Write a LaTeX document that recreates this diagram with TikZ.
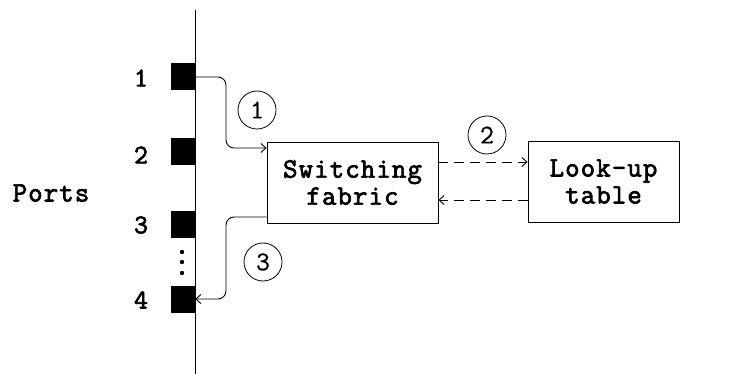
\documentclass[tikz,border=0pt]{standalone}
\usepackage{fontspec}
\newfontfamily\courb{Latin Modern Mono}[FakeBold=2.5,LetterSpace=4]
\newfontfamily\courm{Latin Modern Mono}[FakeBold=0.6]
\usetikzlibrary{arrows.meta}
\begin{document}
\begin{tikzpicture}[x=1pt,y=-1pt,
  txt/.style={font=\courb\fontsize{28}{27}\selectfont},
  port/.style={fill=black,draw=none,minimum width=24pt,minimum height=27pt,inner sep=0pt},
  box/.style={draw,line width=0.9pt,txt,align=center,inner sep=0pt},
  num/.style={draw,circle,line width=0.8pt,minimum size=38pt,inner sep=0pt,font=\courm\fontsize{27}{24}\selectfont},
  plab/.style={font=\courb\fontsize{27}{24}\selectfont},
  arr/.style={line width=0.9pt,-{Straight Barb[length=5pt,width=9pt]},rounded corners=8pt},
  darr/.style={line width=0.9pt,-{Straight Barb[length=5pt,width=9pt]},dash pattern=on 10pt off 6pt}]
\useasboundingbox (0,0) rectangle (739,374);
\fill[white] (0,0) rectangle (739,374);
\coordinate (top) at (195,10);
\coordinate (bot) at (195,374);
\draw[line width=0.9pt] (top) -- (bot);
\node[port] (p1) at (183,77) {};
\node[port] (p2) at (183,152) {};
\node[port] (p3) at (183,225) {};
\node[port] (p4) at (183,299) {};
\node[plab] (l1) at (141,78) {1};
\node[plab] (l2) at (141,155) {2};
\node[plab] (l3) at (141,225) {3};
\node[plab] (l4) at (141,300) {4};
\node[txt] (ports) at (51,193) {Ports};
\foreach \i/\y in {a/252,b/262,c/273} \fill (182,\y) circle (2.2pt);
\node[box,minimum width=171pt,minimum height=81pt] (sw) at (352.5,182.5) {Switching\\fabric};
\node[box,minimum width=151pt,minimum height=81pt] (lu) at (603.5,181.5) {Look-up\\table};
\node[num] (n1) at (257,110) {1};
\node[num] (n2) at (487,135) {2};
\node[num] (n3) at (263,262) {3};
\coordinate (k1) at (226,148);
\coordinate (k3) at (226,217);
\coordinate (k4) at (226,299);
\coordinate (ya) at (0,162);
\coordinate (yb) at (0,200);
\draw[arr] (p1.east) -| (k1) -- (sw.west|-k1);
\draw[arr] (sw.west|-k3) -- (k3) |- (p4.east|-k4);
\draw[darr] (sw.east|-ya) -- (lu.west|-ya);
\draw[darr] (lu.west|-yb) -- (sw.east|-yb);
\end{tikzpicture}
\end{document}
